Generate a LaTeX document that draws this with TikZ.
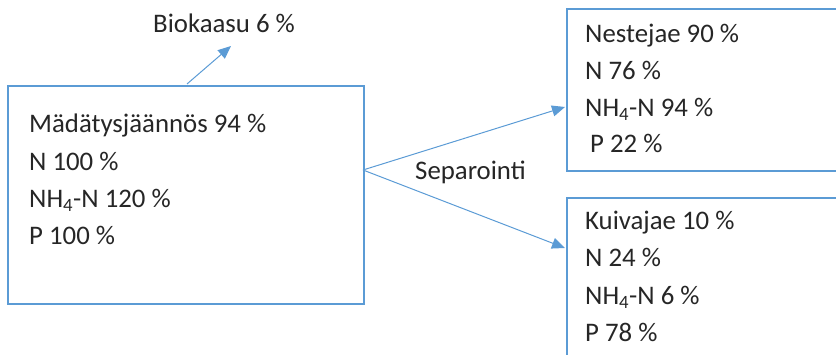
\documentclass[tikz,border=0pt]{standalone}
\usepackage{fontspec}
\setmainfont{Carlito}
\usetikzlibrary{arrows.meta}
\definecolor{lineblue}{HTML}{5B9BD5}
\definecolor{txt}{HTML}{262626}
\begin{document}
\begin{tikzpicture}[x=1pt,y=-1pt,
  box/.style={draw=lineblue,line width=2pt,rectangle,inner sep=0pt,anchor=north west},
  lbl/.style={anchor=base west,inner sep=0pt,text=txt,font=\fontsize{26.8}{32}\selectfont},
  flow/.style={draw=lineblue,line width=1pt,-{Triangle[length=13pt,width=11pt]}}]
\useasboundingbox (0,0) rectangle (836,355);
% boxes
\node[box,minimum width=356pt,minimum height=218pt] (res) at (7,85) {};
\node[box,minimum width=300pt,minimum height=162pt] (liq) at (566,8) {};
\node[box,minimum width=300pt,minimum height=200pt] (dry) at (566,197) {};
% texts
\node[lbl] (bio) at (153,33) {Biokaasu 6 \%};
\node[lbl] (r1) at (29,133) {Mädätysjäännös 94 \%};
\node[lbl] (r2) at (29,171) {N 100 \%};
\node[lbl] (r3) at (29,208) {NH\textsubscript{4}-N 120 \%};
\node[lbl] (r4) at (29,245) {P 100 \%};
\node[lbl] (sep) at (415,180) {Separointi};
\node[lbl] (l1) at (585,43) {Nestejae 90 \%};
\node[lbl] (l2) at (585,80) {N 76 \%};
\node[lbl] (l3) at (585,117) {NH\textsubscript{4}-N 94 \%};
\node[lbl] (l4) at (590,153) {P 22 \%};
\node[lbl] (d1) at (585,230) {Kuivajae 10 \%};
\node[lbl] (d2) at (585,267) {N 24 \%};
\node[lbl] (d3) at (585,305) {NH\textsubscript{4}-N 6 \%};
\node[lbl] (d4) at (585,342) {P 78 \%};
% connectors
\coordinate (biostart) at (187,84);
\coordinate (bioend) at (231,46);
\coordinate (split) at (363,170);
\coordinate (liqin) at (565,107);
\coordinate (dryin) at (565,248);
\draw[flow] (biostart) -- (bioend);
\draw[flow] (split) -- (liqin);
\draw[flow] (split) -- (dryin);
\end{tikzpicture}
\end{document}
